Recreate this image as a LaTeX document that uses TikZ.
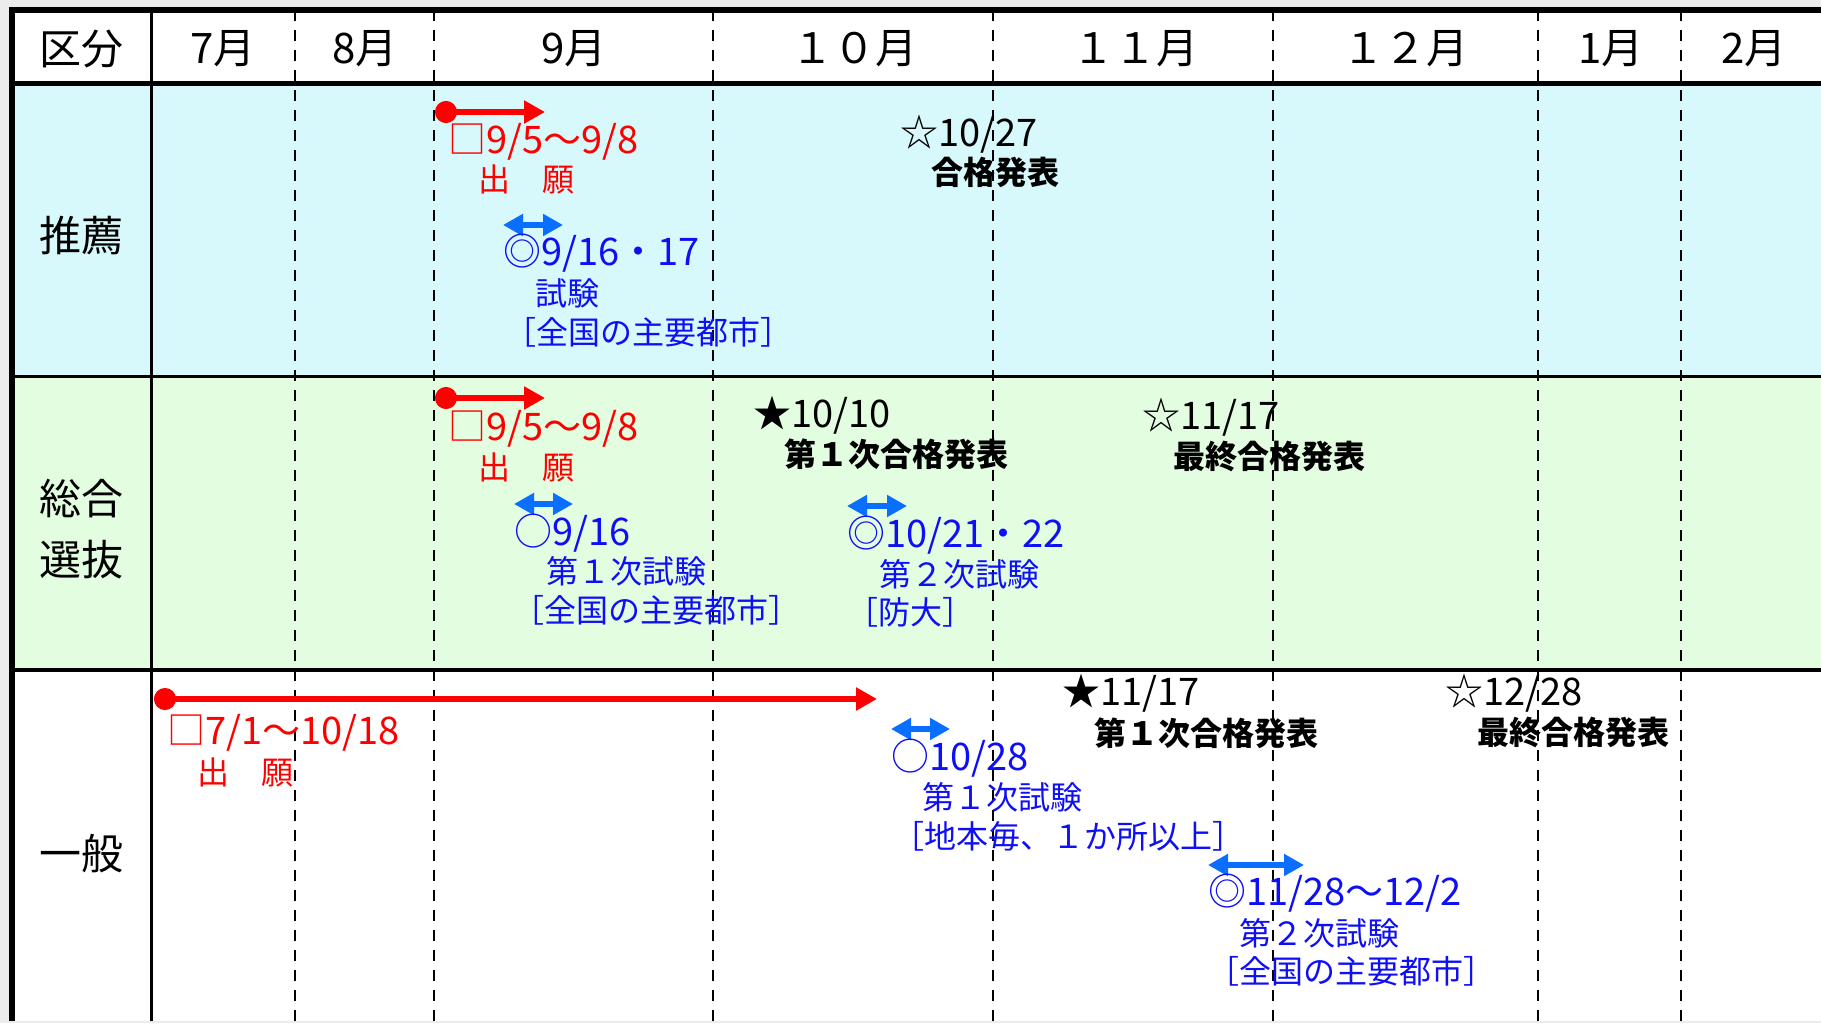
\documentclass[tikz,border=0pt]{standalone}
\usepackage{fontspec}
\newfontfamily\jp{Noto Sans CJK JP}
\usetikzlibrary{arrows.meta}
\definecolor{bgray}{RGB}{236,236,236}
\definecolor{suicyan}{RGB}{215,249,252}
\definecolor{sougreen}{RGB}{227,253,225}
\definecolor{arrred}{RGB}{255,0,0}
\definecolor{arrblue}{RGB}{10,110,255}
\definecolor{txtblue}{RGB}{15,15,245}
\tikzset{
  hdr/.style={font=\jp\fontsize{42}{44}\selectfont, inner sep=0pt},
  datetxt/.style={font=\jp\fontsize{38}{40}\selectfont, inner sep=0pt, anchor=west},
  subtxt/.style={font=\jp\fontsize{32}{34}\selectfont, inner sep=0pt, anchor=west},
  boldtxt/.style={font=\jp\bfseries\fontsize{32}{34}\selectfont, inner sep=0pt, anchor=west},
  redt/.style={text=arrred},
  bluet/.style={text=txtblue},
  blackt/.style={text=black},
  redbar/.style={draw=arrred, line width=6pt, {Circle[length=22pt,width=22pt]}-{Triangle[length=21pt,width=22pt]}},
  bluebar/.style={draw=arrblue, line width=5.5pt, {Triangle[length=20pt,width=21pt]}-{Triangle[length=20pt,width=21pt]}},
  monthsep/.style={line width=2.3pt, dash pattern=on 11pt off 9pt},
}
\begin{document}
\begin{tikzpicture}[x=1pt,y=-1pt]
\fill[bgray] (0,0) rectangle (1821,1023);
\useasboundingbox (0,0) rectangle (1821,1023);
% row fills
\fill[white] (12,10) rectangle (1821,83);
\fill[suicyan] (12,83) rectangle (1821,376);
\fill[sougreen] (12,376) rectangle (1821,670);
\fill[white] (12,670) rectangle (1821,1021);
% month separators
\foreach \mx in {295,434,713,993,1273,1538,1681}
  \draw[monthsep] (\mx,10) -- (\mx,1021);
% solid grid lines
\draw[line width=3pt] (151,10) -- (151,1021);
\draw[line width=3pt] (12,376) -- (1821,376);
\draw[line width=3.5pt] (12,670) -- (1821,670);
\draw[line width=5pt] (12,83) -- (1821,83);
\draw[line width=5.5pt] (12,10) -- (1821,10);
\draw[line width=5.5pt] (12,7.25) -- (12,1021);
% header
\node[hdr] (h0) at (81,49) {区分};
\node[hdr] (h7) at (223,49) {7月};
\node[hdr] (h8) at (365,49) {8月};
\node[hdr] (h9) at (574,49) {9月};
\node[hdr] (h10) at (854,49) {１０月};
\node[hdr] (h11) at (1135,49) {１１月};
\node[hdr] (h12) at (1405,49) {１２月};
\node[hdr] (h1) at (1611,49) {1月};
\node[hdr] (h2) at (1754,49) {2月};
% row labels
\node[hdr] (r1) at (81,236) {推薦};
\node[hdr] (r2a) at (81,499) {総合};
\node[hdr] (r2b) at (81,560) {選抜};
\node[hdr] (r3) at (81,854) {一般};

% ===== 推薦 =====
\coordinate (a1s) at (435,112); \coordinate (a1e) at (545,112);
\draw[redbar] (a1s) -- (a1e);
\node[datetxt,redt] (t1) at (448,142) {□9/5～9/8};
\node[subtxt,redt] (t2) at (478,179) {出　願};
\coordinate (b1s) at (503,225); \coordinate (b1e) at (563,225);
\draw[bluebar] (b1s) -- (b1e);
\node[datetxt,bluet] (t3) at (503,253) {◎9/16・17};
\node[subtxt,bluet] (t4) at (535,293) {試験};
\node[subtxt,bluet] (t5) at (504,332) {［全国の主要都市］};
\node[datetxt,blackt] (t6) at (900,134) {☆10/27};
\node[boldtxt,blackt] (t7) at (931,172) {合格発表};

% ===== 総合選抜 =====
\coordinate (a2s) at (435,398); \coordinate (a2e) at (545,398);
\draw[redbar] (a2s) -- (a2e);
\node[datetxt,redt] (s1) at (448,429) {□9/5～9/8};
\node[subtxt,redt] (s2) at (478,467) {出　願};
\coordinate (b2s) at (514,504); \coordinate (b2e) at (573,504);
\draw[bluebar] (b2s) -- (b2e);
\node[datetxt,bluet] (s3) at (514,533) {○9/16};
\node[subtxt,bluet] (s4) at (546,571) {第１次試験};
\node[subtxt,bluet] (s5) at (512,610) {［全国の主要都市］};
\node[datetxt,blackt] (s6) at (753,415) {★10/10};
\node[boldtxt,blackt] (s7) at (784,454) {第１次合格発表};
\coordinate (b3s) at (847,506); \coordinate (b3e) at (907,506);
\draw[bluebar] (b3s) -- (b3e);
\node[datetxt,bluet] (s8) at (847,535) {◎10/21・22};
\node[subtxt,bluet] (s9) at (879,574) {第２次試験};
\node[subtxt,bluet] (s10) at (846,612) {［防大］};
\node[datetxt,blackt] (s11) at (1142,417) {☆11/17};
\node[boldtxt,blackt] (s12) at (1173,456) {最終合格発表};

% ===== 一般 =====
\coordinate (a3s) at (154,699); \coordinate (a3e) at (877,699);
\draw[redbar] (a3s) -- (a3e);
\node[datetxt,redt] (g1) at (167,733) {□7/1～10/18};
\node[subtxt,redt] (g2) at (197,772) {出　願};
\coordinate (b4s) at (891,729); \coordinate (b4e) at (950,729);
\draw[bluebar] (b4s) -- (b4e);
\node[datetxt,bluet] (g3) at (891,758) {○10/28};
\node[subtxt,bluet] (g4) at (922,797) {第１次試験};
\node[subtxt,bluet] (g5) at (892,836) {［地本毎、１か所以上］};
\node[datetxt,blackt] (g6) at (1062,693) {★11/17};
\node[boldtxt,blackt] (g7) at (1094,733) {第１次合格発表};
\node[datetxt,blackt] (g8) at (1445,693) {☆12/28};
\node[boldtxt,blackt] (g9) at (1477,732) {最終合格発表};
\coordinate (b5s) at (1208,865); \coordinate (b5e) at (1304,865);
\draw[bluebar] (b5s) -- (b5e);
\node[datetxt,bluet] (g10) at (1208,893) {◎11/28～12/2};
\node[subtxt,bluet] (g11) at (1239,933) {第２次試験};
\node[subtxt,bluet] (g12) at (1207,971) {［全国の主要都市］};
\end{tikzpicture}
\end{document}
